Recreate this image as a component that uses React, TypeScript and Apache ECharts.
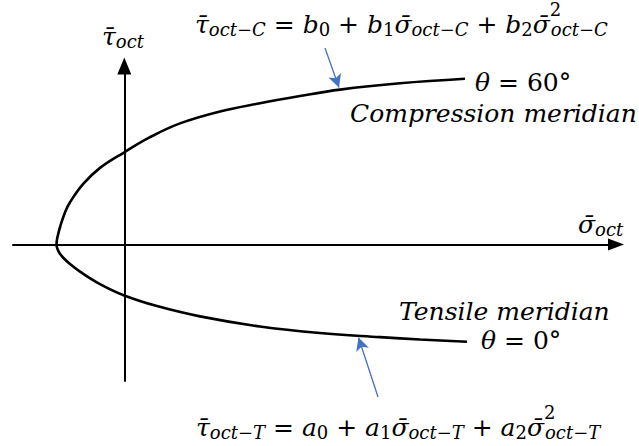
import React, { useEffect, useRef } from 'react';
import * as echarts from 'echarts';

// Compression meridian (θ = 60°), listed from its far end back toward the apex
const compressionSigma = [3.407, 2.757, 2.157, 1.757, 1.357, 0.957, 0.557, 0.257, 0, -0.243, -0.413, -0.543, -0.593, -0.638, -0.668];
const compressionTau = [1.657, 1.612, 1.549, 1.485, 1.413, 1.33, 1.211, 1.073, 0.922, 0.766, 0.603, 0.422, 0.321, 0.19, 0.075];
// Apex of the envelope on the hydrostatic axis
const apexSigma = -0.678;
const apexTau = 0;
// Tensile meridian (θ = 0°), from the apex outward
const tensileSigma = [-0.668, -0.648, -0.608, -0.543, -0.443, -0.243, 0, 0.327, 0.757, 1.357, 1.957, 2.557, 2.957, 3.427];
const tensileTau = [-0.045, -0.085, -0.135, -0.195, -0.271, -0.396, -0.51, -0.616, -0.719, -0.82, -0.885, -0.926, -0.95, -0.972];

// Axis extents
const sigmaRange = [-1.113, 4.917];
const tauRange = [-1.365, 1.785];

// Points on the meridians that the two callout arrows touch
const compressionArrowTip = [2.147, 1.57];
const tensileArrowTip = [2.342, -0.93];

const FAM = '"DejaVu Serif", serif';
const F = 25;
const FS = 18;
const LINE = 44;

const rich: any = {
  v: { fontFamily: FAM, fontSize: F, fontStyle: 'italic', lineHeight: LINE, fill: '#000' },
  o: { fontFamily: FAM, fontSize: F, fontStyle: 'normal', lineHeight: LINE, fill: '#000' },
  s: { fontFamily: FAM, fontSize: FS, fontStyle: 'italic', verticalAlign: 'bottom', height: 34, lineHeight: LINE, fill: '#000' },
  sn: { fontFamily: FAM, fontSize: FS, fontStyle: 'normal', verticalAlign: 'bottom', height: 34, lineHeight: LINE, fill: '#000' },
  p: { fontFamily: FAM, fontSize: FS, fontStyle: 'normal', verticalAlign: 'top', height: 14, lineHeight: LINE, width: 1, fill: '#000' },
};

const TAU = 'τ\u0304';
const SIG = 'σ\u0304';

const compressionFormula =
  `{v|${TAU}}{s|oct}{sn|−}{s|C}{o| = }{v|b}{sn|0}{o| + }{v|b}{sn|1}{v|${SIG}}{s|oct}{sn|−}{s|C}{o| + }{v|b}{sn|2}{v|${SIG}}{p|2}{s|oct}{sn|−}{s|C}`;
const tensileFormula =
  `{v|${TAU}}{s|oct}{sn|−}{s|T}{o| = }{v|a}{sn|0}{o| + }{v|a}{sn|1}{v|${SIG}}{s|oct}{sn|−}{s|T}{o| + }{v|a}{sn|2}{v|${SIG}}{p|2}{s|oct}{sn|−}{s|T}`;

function mathText(text: string, x: number, y: number) {
  return {
    type: 'text',
    x,
    y,
    silent: true,
    style: { text, rich, align: 'left', textAlign: 'left', verticalAlign: 'top', textVerticalAlign: 'top' },
  };
}

function plainText(text: string, x: number, y: number) {
  return {
    type: 'text',
    x,
    y,
    silent: true,
    style: {
      text,
      fontFamily: FAM,
      fontSize: 25,
      fontStyle: 'italic',
      fill: '#000',
      align: 'left',
      textAlign: 'left',
      verticalAlign: 'middle',
      textVerticalAlign: 'middle',
    },
  };
}

export default function App() {
  const ref = useRef<HTMLDivElement>(null);

  useEffect(() => {
    if (!ref.current) return;
    const chart = echarts.init(ref.current, null, { renderer: 'svg' });

    const meridian: number[][] = [];
    compressionSigma.forEach((s, i) => meridian.push([s, compressionTau[i]]));
    meridian.push([apexSigma, apexTau]);
    tensileSigma.forEach((s, i) => meridian.push([s, tensileTau[i]]));

    const axisCommon = {
      type: 'value',
      axisTick: { show: false },
      axisLabel: { show: false },
      splitLine: { show: false },
    };

    chart.setOption({
      animation: false,
      backgroundColor: '#fff',
      grid: { left: 13, right: 23, top: 66, bottom: 65 },
      xAxis: {
        ...axisCommon,
        min: sigmaRange[0],
        max: sigmaRange[1],
        axisLine: {
          show: true,
          onZero: true,
          symbol: ['none', 'triangle'],
          symbolSize: [12, 16],
          lineStyle: { color: '#000', width: 2 },
        },
      },
      yAxis: {
        ...axisCommon,
        min: tauRange[0],
        max: tauRange[1],
        axisLine: {
          show: true,
          onZero: true,
          symbol: ['none', 'triangle'],
          symbolSize: [14, 17],
          lineStyle: { color: '#000', width: 2 },
        },
      },
      series: [
        {
          type: 'line',
          data: meridian,
          showSymbol: false,
          symbol: 'none',
          smooth: 0.4,
          clip: false,
          silent: true,
          lineStyle: { color: '#000', width: 2.6 },
          markLine: {
            silent: true,
            symbol: ['none', 'arrow'],
            symbolSize: [10, 13],
            label: { show: false },
            lineStyle: { color: '#4472C4', width: 1.3, type: 'solid' },
            data: [
              [{ x: 325, y: 48 }, { coord: compressionArrowTip }],
              [{ x: 378, y: 397 }, { coord: tensileArrowTip }],
            ],
          },
        },
      ],
      graphic: [
        mathText(compressionFormula, 195, 2.35),
        mathText(`{v|θ}{o| = 60°}`, 475, 60.35),
        plainText('Compression meridian', 350, 113.5),
        mathText(`{v|${TAU}}{s|oct}`, 102, 14.35),
        mathText(`{v|${SIG}}{s|oct}`, 578, 202.35),
        plainText('Tensile meridian', 399, 311),
        mathText(`{v|θ}{o| = 0°}`, 481, 318.35),
        mathText(tensileFormula, 196, 405.35),
      ],
    });

    return () => chart.dispose();
  }, []);

  return (
    <div
      ref={ref}
      style={{ position: 'fixed', left: 0, top: 0, width: 639, height: 446, background: '#fff' }}
    />
  );
}
